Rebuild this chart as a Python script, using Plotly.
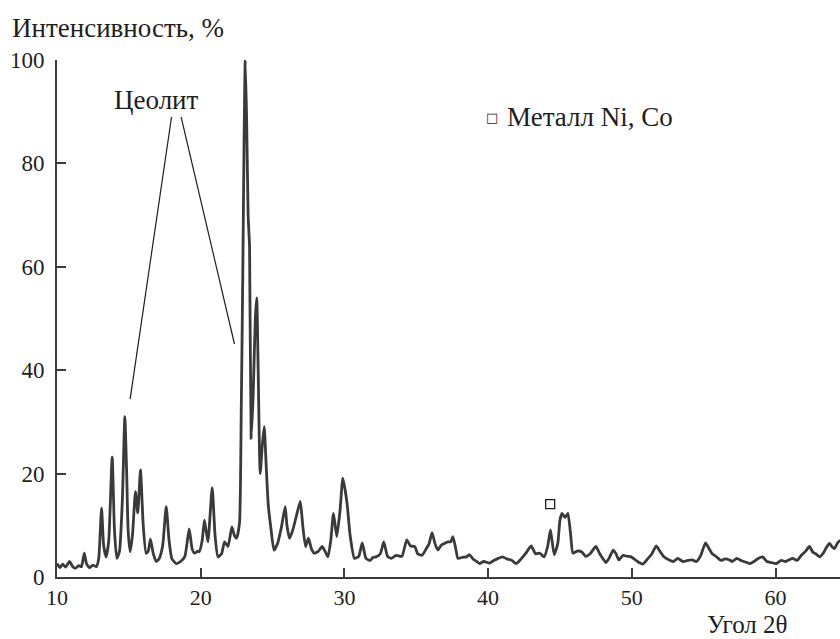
import plotly.graph_objects as go

# XRD pattern (2θ, intensity %)
two_theta = [10.0, 10.2, 10.4, 10.6, 10.87, 11.1, 11.3, 11.5, 11.7, 11.9, 12.05, 12.26, 12.5, 12.73, 12.9,
             13.1, 13.25, 13.42, 13.6, 13.84, 14.0, 14.16, 14.35, 14.55, 14.72, 14.85, 14.95, 15.09, 15.25,
             15.46, 15.62, 15.81, 16.0, 16.2, 16.35, 16.5, 16.7, 16.9, 17.1, 17.35, 17.6, 17.8, 18.0, 18.3,
             18.6, 18.9, 19.2, 19.4, 19.57, 19.8, 19.9, 20.1, 20.26, 20.5, 20.8, 21.0, 21.2, 21.45, 21.66,
             21.9, 22.17, 22.35, 22.5, 22.7, 22.82, 22.93, 23.02, 23.1, 23.2, 23.3, 23.4, 23.51, 23.65, 23.8,
             23.9, 24.0, 24.14, 24.3, 24.42, 24.55, 24.7, 24.9, 25.1, 25.35, 25.6, 25.88, 26.0, 26.18, 26.4,
             26.65, 26.93, 27.1, 27.3, 27.5, 27.7, 27.9, 28.2, 28.45, 28.65, 28.85, 29.05, 29.24, 29.47, 29.7,
             29.89, 30.17, 30.4, 30.7, 31.0, 31.24, 31.5, 31.8, 32.0, 32.2, 32.5, 32.74, 33.0, 33.26, 33.6,
             34.0, 34.34, 34.6, 34.9, 35.1, 35.4, 35.7, 35.9, 36.1, 36.3, 36.5, 36.75, 36.97, 37.2, 37.4,
             37.55, 37.75, 37.9, 38.2, 38.5, 38.7, 38.95, 39.2, 39.4, 39.7, 40.1, 40.4, 40.7, 41.0, 41.3,
             41.6, 41.96, 42.3, 42.6, 43.0, 43.3, 43.6, 43.9, 44.15, 44.34, 44.6, 44.85, 45.0, 45.15, 45.35,
             45.55, 45.75, 45.9, 46.2, 46.5, 46.8, 47.1, 47.5, 47.75, 48.0, 48.2, 48.45, 48.7, 48.9, 49.1,
             49.4, 49.7, 49.95, 50.3, 50.5, 50.77, 51.1, 51.4, 51.7, 51.95, 52.2, 52.6, 52.9, 53.2, 53.55,
             53.9, 54.2, 54.5, 54.8, 55.13, 55.35, 55.6, 55.9, 56.2, 56.5, 56.8, 57.0, 57.3, 57.6, 58.0,
             58.2, 58.5, 58.8, 59.1, 59.4, 59.7, 60.05, 60.4, 60.7, 61.0, 61.2, 61.5, 61.8, 62.1, 62.36,
             62.6, 62.8, 63.06, 63.3, 63.5, 63.76, 63.95, 64.1, 64.3, 64.45, 64.6]
intensity = [2.6, 1.8, 2.5, 1.9, 3.0, 2.0, 1.7, 2.2, 2.0, 4.6, 2.6, 1.8, 2.3, 2.0, 3.5,
             13.3, 6.0, 3.9, 7.0, 23.2, 9.0, 3.6, 5.0, 15.0, 31.0, 20.0, 9.0, 4.9, 8.0,
             16.5, 12.4, 20.7, 10.0, 4.6, 5.0, 7.3, 4.5, 3.0, 3.5, 6.0, 13.6, 7.0, 3.5, 2.6,
             3.0, 4.0, 9.3, 5.5, 4.6, 5.0, 4.9, 7.0, 11.0, 6.8, 17.3, 8.0, 3.9, 4.5, 6.8,
             5.9, 9.7, 8.0, 7.5, 10.4, 31.7, 58.8, 85.0, 100.0, 88.0, 70.0, 63.9, 26.8, 35.0, 50.0,
             54.0, 40.0, 20.0, 26.0, 29.1, 22.0, 14.0, 9.1, 5.2, 6.5, 9.4, 13.6, 10.0, 7.5, 9.0,
             11.7, 14.6, 10.0, 5.9, 7.5, 5.5, 4.6, 5.0, 5.9, 5.0, 3.9, 7.0, 12.3, 7.8, 13.0,
             19.1, 14.6, 8.0, 3.6, 4.0, 6.6, 3.6, 3.2, 3.8, 3.9, 4.5, 6.8, 4.0, 3.6, 4.2,
             4.0, 7.2, 6.0, 5.9, 4.5, 4.2, 5.5, 6.5, 8.6, 6.5, 5.2, 6.2, 6.5, 6.8, 6.8,
             7.8, 5.5, 3.6, 3.8, 3.9, 4.3, 3.5, 3.0, 2.6, 3.0, 2.7, 3.2, 3.6, 3.9, 3.5,
             3.3, 2.6, 3.5, 4.5, 6.0, 4.5, 4.6, 3.9, 6.0, 9.1, 4.3, 6.5, 11.0, 12.3, 11.5,
             12.3, 8.0, 4.6, 5.0, 4.9, 4.0, 4.5, 5.9, 4.6, 3.5, 2.8, 3.8, 5.2, 4.5, 3.3,
             4.2, 4.0, 3.9, 3.2, 2.8, 2.5, 3.5, 4.5, 6.0, 5.0, 4.0, 3.3, 3.0, 3.6, 3.0,
             3.2, 3.3, 3.0, 4.2, 6.6, 5.6, 4.5, 3.9, 3.2, 3.5, 3.3, 3.0, 3.6, 3.2, 2.8,
             2.6, 3.0, 3.6, 3.9, 3.0, 2.8, 2.6, 3.2, 3.0, 3.4, 3.6, 3.2, 4.2, 5.0, 5.9,
             4.8, 4.5, 3.9, 4.5, 5.5, 6.5, 5.8, 5.5, 6.5, 7.0, 6.8]

metal_x = [44.32]
metal_y = [14.1]

x_ticks = [10, 20, 30, 40, 50, 60]
y_ticks = [0, 20, 40, 60, 80, 100]

FONT = "Liberation Serif"
TXT = "#1e1e1e"
AX = "#3c3c3c"
TS = 27   # text size
KS = 22   # tick label size

fig = go.Figure()
fig.add_trace(go.Scatter(x=two_theta, y=intensity, mode="lines",
                         line=dict(color="#3a3a3a", width=2.8, shape="spline", smoothing=0.5),
                         cliponaxis=False, showlegend=False))
fig.add_trace(go.Scatter(x=metal_x, y=metal_y, mode="markers",
                         marker=dict(symbol="square-open", size=9, color="#1e1e1e",
                                     line=dict(width=1.3, color="#1e1e1e")),
                         cliponaxis=False, showlegend=False))

# leader lines for "Цеолит"
fig.add_shape(type="line", x0=17.97, y0=88.97, x1=15.09, y1=34.4,
              line=dict(color="#1e1e1e", width=1.2))
fig.add_shape(type="line", x0=18.64, y0=88.97, x1=22.35, y1=45.07,
              line=dict(color="#1e1e1e", width=1.2))

fig.add_annotation(x=16.92, y=92.3, text="Цеолит", showarrow=False,
                   font=dict(family=FONT, size=TS, color=TXT), xanchor="center", yanchor="middle")

# legend-like label
fig.add_annotation(xref="paper", yref="paper", x=(484 - 57) / 783, y=(577 - 118) / 517,
                   text="□", showarrow=False, xanchor="left", yanchor="middle",
                   font=dict(family="DejaVu Sans", size=13, color=TXT))
fig.add_annotation(xref="paper", yref="paper", x=(505 - 57) / 783, y=(577 - 117) / 517,
                   text="Металл Ni, Co", showarrow=False, xanchor="left", yanchor="middle",
                   font=dict(family=FONT, size=TS, color=TXT))

# axis titles
fig.add_annotation(xref="paper", yref="paper", x=-(57 - 10) / 783, y=(577 - 28) / 517,
                   text="Интенсивность, %", showarrow=False, xanchor="left", yanchor="middle",
                   font=dict(family=FONT, size=TS, color=TXT))
fig.add_annotation(xref="paper", yref="paper", x=(789 - 57) / 783, y=-(639 - 577) / 517,
                   text="Угол 2θ", showarrow=False, xanchor="right", yanchor="bottom",
                   borderpad=0, font=dict(family=FONT, size=25, color=TXT))

fig.update_layout(
    width=840, height=639,
    margin=dict(l=57, r=0, t=60, b=62),
    paper_bgcolor="white", plot_bgcolor="white",
    font=dict(family=FONT, size=KS, color=TXT),
)
fig.update_xaxes(range=[10, 10 + 783 / 14.37], tickvals=x_ticks, ticks="inside", ticklen=9,
                 tickwidth=1.5, tickcolor=AX, showline=True, linecolor=AX, linewidth=1.6,
                 showgrid=False, zeroline=False, tickfont=dict(family=FONT, size=KS, color=TXT))
fig.update_yaxes(range=[0, 100], tickvals=y_ticks, ticks="inside", ticklen=9,
                 tickwidth=1.5, tickcolor=AX, showline=True, linecolor=AX, linewidth=1.6,
                 showgrid=False, zeroline=False, ticklabelstandoff=6,
                 tickfont=dict(family=FONT, size=KS + 1, color=TXT))

fig.write_html("out.html")
